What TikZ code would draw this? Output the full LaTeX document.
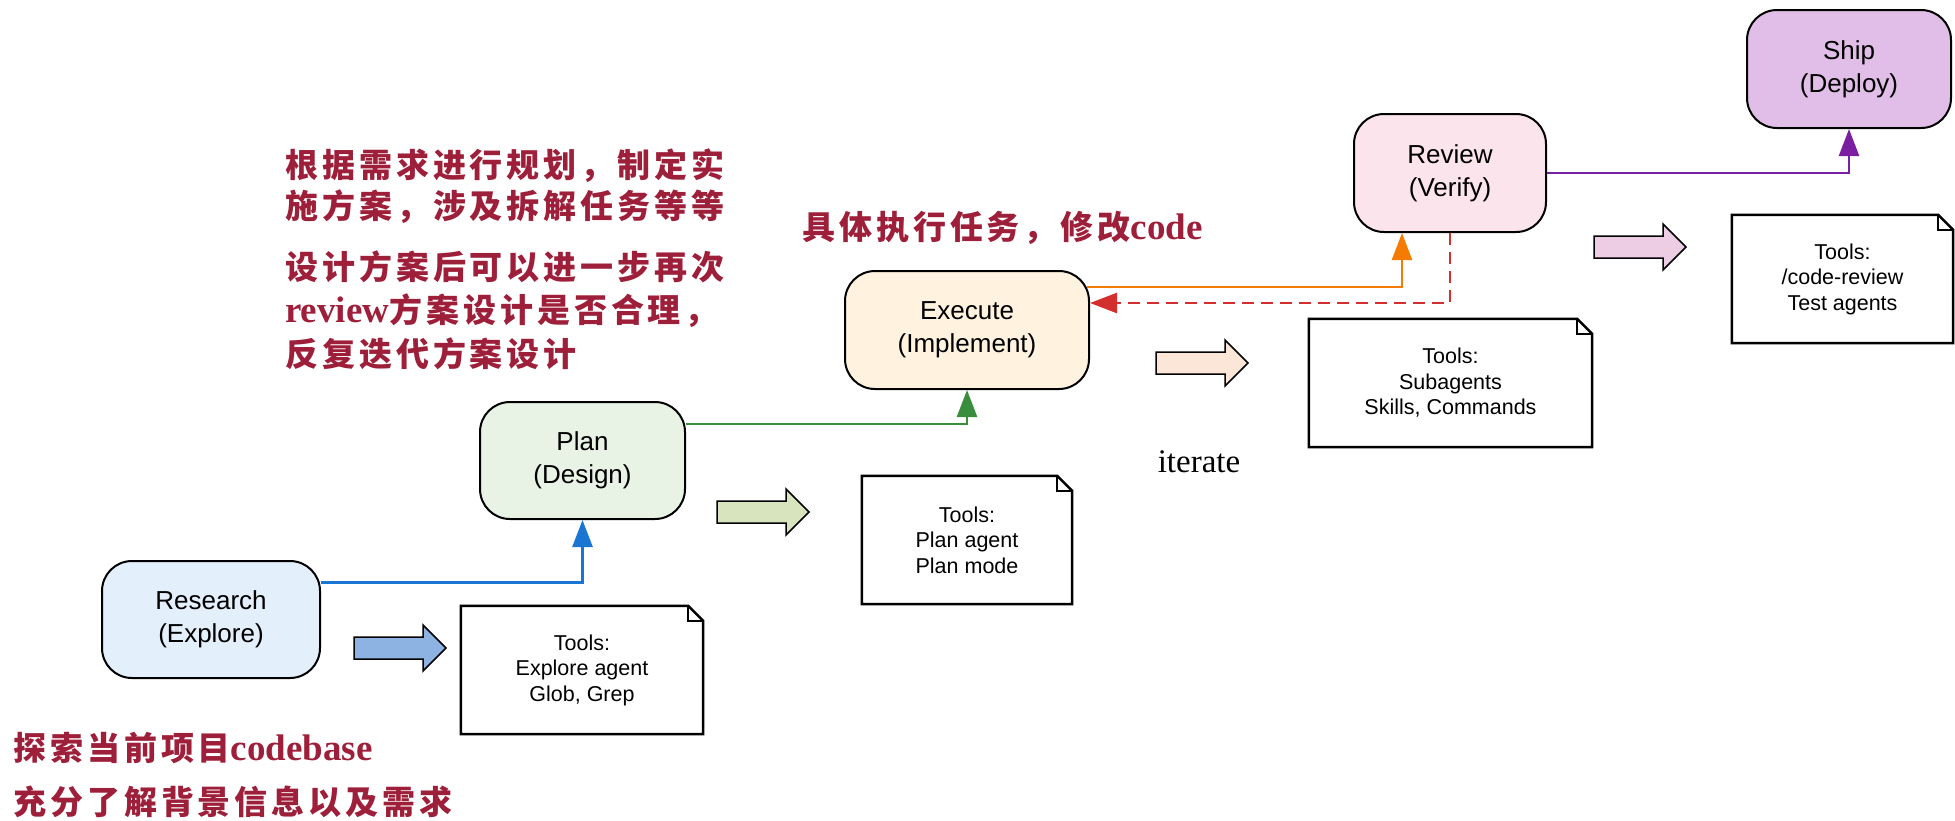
\documentclass[tikz,border=0pt]{standalone}
\usepackage{fontspec}
\setmainfont{Liberation Sans}
\newfontfamily\cjkfont[LetterSpace=12]{Noto Sans CJK SC}
\newfontfamily\serifface{Liberation Serif}
\usetikzlibrary{arrows.meta,calc}

% stage fills
\definecolor{resfill}{HTML}{E3F0FB}
\definecolor{planfill}{HTML}{E8F3E6}
\definecolor{exefill}{HTML}{FFF3E0}
\definecolor{revfill}{HTML}{FCE4EC}
\definecolor{shipfill}{HTML}{E1BEE7}
% connector colours
\definecolor{cblue}{HTML}{1976D2}
\definecolor{cgreen}{HTML}{388E3C}
\definecolor{corange}{HTML}{F57C00}
\definecolor{cred}{HTML}{D32F2F}
\definecolor{cpurple}{HTML}{7B1FA2}
% block arrow fills
\definecolor{ablue}{HTML}{8DB3E2}
\definecolor{agreen}{HTML}{D7E4BD}
\definecolor{apeach}{HTML}{FCE6D8}
\definecolor{apink}{HTML}{EDCDE3}
% annotation text
\definecolor{notecol}{HTML}{9E1F3A}

% folded-corner outline around a tool note
\newcommand\foldnote[1]{%
  \draw[line width=2.5pt, line join=miter]
    (#1.north west) -- ([xshift=-15pt]#1.north east) -- ([yshift=-15pt]#1.north east)
    -- (#1.south east) -- (#1.south west) -- cycle;
  \draw[line width=1.5pt] ([xshift=-15pt]#1.north east) |- ([yshift=-15pt]#1.north east);}

% fat right-pointing arrow: left x, centre y, fill
\newcommand\blockarrow[3]{%
  \draw[line width=1.5pt, fill=#3, line join=miter]
    (#1,#2-11) -- (#1+69,#2-11) -- (#1+69,#2-23) -- (#1+92,#2)
    -- (#1+69,#2+23) -- (#1+69,#2+11) -- (#1,#2+11) -- cycle;}

\newcommand\lat[1]{{\serifface\bfseries\fontsize{37}{37}\selectfont #1}}

\tikzset{
  stage/.style={draw=black, line width=2pt, rounded corners=30pt, align=center,
    inner sep=0pt, font=\fontsize{26}{33}\selectfont},
  toolnote/.style={align=center, inner sep=0pt, minimum height=128pt,
    font=\fontsize{21.5}{25.5}\selectfont},
  flow/.style={line width=2.5pt, -{Triangle[length=27pt,width=20pt]}},
  cn/.style={anchor=base west, inner sep=0pt, text=notecol,
    font=\cjkfont\bfseries\fontsize{33}{33}\selectfont},
}

\begin{document}
\begin{tikzpicture}[x=1pt, y=-1pt]
\useasboundingbox (0,0) rectangle (1955,820);

% stages
\node[stage, fill=resfill, minimum width=218pt, minimum height=117pt] (res) at (211,619.5) {Research\\(Explore)};
\node[stage, fill=planfill, minimum width=205pt, minimum height=117pt] (plan) at (582.5,460.5) {Plan\\(Design)};
\node[stage, fill=exefill, minimum width=244pt, minimum height=118pt] (exe) at (967,330) {Execute\\(Implement)};
\node[stage, fill=revfill, minimum width=192pt, minimum height=118pt] (rev) at (1450,173) {Review\\(Verify)};
\node[stage, fill=shipfill, minimum width=204pt, minimum height=118pt] (ship) at (1849,69) {Ship\\(Deploy)};

% tool notes
\node[toolnote, minimum width=242pt] (n1) at (582,670) {Tools:\\Explore agent\\Glob, Grep};
\node[toolnote, minimum width=210pt] (n2) at (967,540) {Tools:\\Plan agent\\Plan mode};
\node[toolnote, minimum width=283pt] (n3) at (1450.5,383) {Tools:\\Subagents\\Skills, Commands};
\node[toolnote, minimum width=221pt] (n4) at (1842.5,279) {Tools:\\/code-review\\Test agents};
\foldnote{n1}
\foldnote{n2}
\foldnote{n3}
\foldnote{n4}

% block arrows pointing at the notes
\blockarrow{354}{648}{ablue}
\blockarrow{717}{512}{agreen}
\blockarrow{1156}{363}{apeach}
\blockarrow{1594}{247}{apink}

% flow between stages
\draw[flow, cblue] ([yshift=37pt]res.east) -| (plan.south);
\draw[flow, cgreen] ([yshift=36.5pt]plan.east) -| (exe.south);
\draw[flow, corange] ([yshift=43pt, xshift=-3pt]exe.east) -| ([xshift=-48pt]rev.south);
\draw[flow, cred, dash pattern=on 12pt off 7pt] (rev.south) |- ([yshift=27pt]exe.east);
\draw[flow, cpurple] (rev.east) -| (ship.south);

\node[anchor=base, inner sep=0pt, font=\serifface\fontsize{33}{33}\selectfont] (iter) at (1199,472) {iterate};

% annotations
\node[cn] (p1) at (285,177.5) {根据需求进行规划，制定实};
\node[cn] (p2) at (285,218.5) {施方案，涉及拆解任务等等};
\node[cn] (p3) at (285,279.5) {设计方案后可以进一步再次};
\node[cn] (p4) at (285,322.5) {\lat{review}方案设计是否合理，};
\node[cn] (p5) at (285,366.5) {反复迭代方案设计};
\node[cn] (e1) at (802,239.5) {具体执行任务，修改\lat{code}};
\node[cn] (r1) at (13,760) {探索当前项目\lat{codebase}};
\node[cn] (r2) at (13,814) {充分了解背景信息以及需求};
\end{tikzpicture}
\end{document}
